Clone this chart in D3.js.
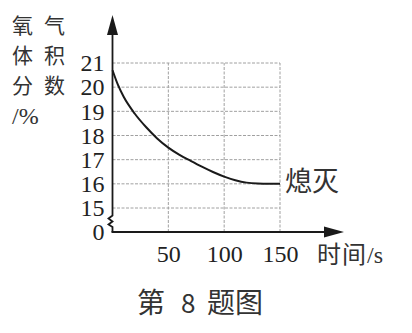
<!DOCTYPE html>
<html>
<head>
<meta charset="utf-8">
<script src="https://cdn.jsdelivr.net/npm/d3@7"></script>
<style>
  body { margin: 0; background: #fff; }
  svg { display: block; }
  .cjk { font-family: "Noto Sans CJK SC", sans-serif; fill: #333; }
</style>
</head>
<body>
<svg id="chart"></svg>
<script>
var SERIF = "'Liberation Serif', 'DejaVu Serif', 'Times New Roman', serif";

// data
var times = [0, 5, 10, 20, 30, 40, 50, 60, 70, 80, 90, 100, 110, 120, 130, 140, 150];
var oxygen = [20.7, 20.08, 19.6, 18.9, 18.35, 17.88, 17.5, 17.2, 16.95, 16.71, 16.49, 16.3, 16.15, 16.05, 16.01, 16.0, 16.0];
var yTicks = [0, 15, 16, 17, 18, 19, 20, 21];
var xTicks = [50, 100, 150];
var yLabelLines = ["氧气", "体积", "分数"];

var width = 412, height = 333;
var svg = d3.select("#chart").attr("width", width).attr("height", height);

var ox = 112.5, oy = 232;
var x = d3.scaleLinear().domain([0, 150]).range([ox, 280]);
// broken axis: 0..15 squeezed, 15..21 normal
var y = d3.scaleLinear().domain([0, 15, 21]).range([oy, 208, 63]);

// grid
var grid = svg.append("g").attr("stroke", "#a0a0a0").attr("stroke-width", 1)
  .attr("stroke-dasharray", "3,1.5");
grid.selectAll("line.h").data(yTicks.filter(function (d) { return d >= 15; }))
  .enter().append("line").attr("class", "h")
  .attr("x1", ox).attr("x2", x(150))
  .attr("y1", function (d) { return y(d); }).attr("y2", function (d) { return y(d); });
grid.selectAll("line.v").data(xTicks).enter().append("line").attr("class", "v")
  .attr("x1", function (d) { return x(d); }).attr("x2", function (d) { return x(d); })
  .attr("y1", oy).attr("y2", y(21));

// the curve
var pts = times.map(function (t, i) { return [t, oxygen[i]]; });
svg.append("path").datum(pts)
  .attr("fill", "none").attr("stroke", "#1a1a1a").attr("stroke-width", 2)
  .attr("d", d3.line().x(function (d) { return x(d[0]); }).y(function (d) { return y(d[1]); })
    .curve(d3.curveMonotoneX));

// axes with arrows
var ax = svg.append("g").attr("stroke", "#1a1a1a").attr("stroke-width", 1.8).attr("fill", "none");
ax.append("path").attr("d",
  "M" + ox + "," + oy + " L" + ox + ",227 L108.5,224.5 L" + ox + ",221.5 L108.5,218.5 L" + ox + ",215.5 L" + ox + ",30");
ax.append("path").attr("d", "M" + (ox - 1) + "," + oy + " L330," + oy);
svg.append("path").attr("fill", "#1a1a1a")
  .attr("d", "M" + ox + ",15 L" + (ox - 5.5) + ",35 L" + (ox + 5.5) + ",35 Z");
svg.append("path").attr("fill", "#1a1a1a")
  .attr("d", "M344," + oy + " L324," + (oy - 5.5) + " L324," + (oy + 5.5) + " Z");

// tick labels
var yAxis = svg.append("g").attr("transform", "translate(" + ox + ",0)")
  .call(d3.axisLeft(y).tickValues(yTicks).tickSize(0).tickPadding(8));
yAxis.select(".domain").remove();
yAxis.attr("font-family", SERIF).attr("font-size", 24);
yAxis.selectAll("text").attr("fill", "#222").style("font-family", SERIF);

var xAxis = svg.append("g").attr("transform", "translate(0," + oy + ")")
  .call(d3.axisBottom(x).tickValues(xTicks).tickSize(0).tickPadding(13));
xAxis.select(".domain").remove();
xAxis.attr("font-family", SERIF).attr("font-size", 24);
xAxis.selectAll("text").attr("fill", "#222").style("font-family", SERIF);

// y title, one text block
var yt = svg.append("text").attr("class", "cjk").style("font-size", "21px").style("letter-spacing", "11px");
yt.selectAll("tspan").data(yLabelLines).enter().append("tspan")
  .attr("x", 12).attr("y", function (d, i) { return 33 + i * 30; }).text(function (d) { return d; });
yt.append("tspan").attr("x", 12).attr("y", 124)
  .style("font-family", SERIF).style("letter-spacing", "0px").style("font-size", "24px").text("/%");

// x title
var xt = svg.append("text").attr("class", "cjk").attr("y", 263).style("font-size", "24px");
xt.append("tspan").attr("x", 317).text("时");
xt.append("tspan").attr("x", 342).text("间");
xt.append("tspan").attr("x", 367).style("font-family", SERIF).text("/s");

// end label
svg.append("text").attr("class", "cjk").attr("x", 285).attr("y", 191)
  .style("font-size", "27px").text("熄灭");

// caption
var cap = svg.append("text").attr("class", "cjk").attr("y", 313).style("font-size", "28px");
cap.append("tspan").attr("x", 137).text("第");
cap.append("tspan").attr("x", 181).style("font-size", "26px").text("8");
cap.append("tspan").attr("x", 207).text("题图");
</script>
</body>
</html>
